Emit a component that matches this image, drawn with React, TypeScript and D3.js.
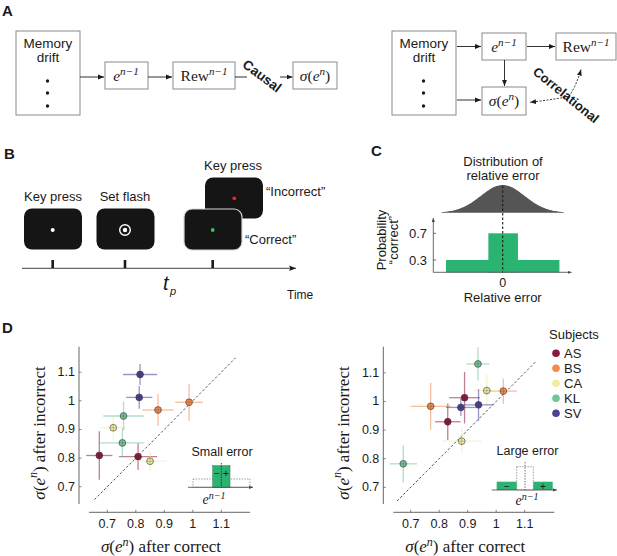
import React from 'react';
import * as d3 from 'd3';

// ---- data ----
const subjects = ['AS', 'BS', 'CA', 'KL', 'SV'];
const subjectColors = ['#8c1840', '#f28b4c', '#f1eca0', '#72c597', '#4b3f98'];

const axisTicks = [0.7, 0.8, 0.9, 1, 1.1];
const axisTickLabels = ['0.7', '0.8', '0.9', '1', '1.1'];

// small error (left)
const smallSubject = ['AS', 'AS', 'BS', 'BS', 'CA', 'CA', 'KL', 'KL', 'SV', 'SV'];
const smallCorrect = [0.672, 0.808, 0.878, 0.987, 0.721, 0.85, 0.757, 0.753, 0.815, 0.812];
const smallIncorrect = [0.809, 0.805, 0.968, 0.995, 0.906, 0.789, 0.947, 0.853, 1.092, 1.012];
const smallCorrectErr = [0.046, 0.067, 0.055, 0.049, 0.044, 0.058, 0.071, 0.077, 0.06, 0.046];
const smallIncorrectErr = [0.085, 0.047, 0.056, 0.065, 0.04, 0.035, 0.05, 0.05, 0.037, 0.04];

// large error (right)
const largeSubject = ['AS', 'AS', 'BS', 'BS', 'CA', 'CA', 'KL', 'KL', 'SV', 'SV'];
const largeCorrect = [0.889, 0.83, 0.77, 1.025, 0.967, 0.879, 0.936, 0.674, 0.938, 0.876];
const largeIncorrect = [1.013, 0.929, 0.983, 1.036, 1.038, 0.861, 1.131, 0.782, 0.988, 0.979];
const largeCorrectErr = [0.054, 0.045, 0.07, 0.047, 0.047, 0.07, 0.04, 0.048, 0.052, 0.052];
const largeIncorrectErr = [0.09, 0.064, 0.082, 0.044, 0.055, 0.044, 0.058, 0.064, 0.055, 0.03];

// panel C: reward probability vs relative error
const cBarStart = [-0.93, -0.235];
const cBarEnd = [0.93, 0.25];
const cBarValue = [0.3, 0.7];
const cTicks = [0.3, 0.7];

const SANS = 'Liberation Sans, Arial, sans-serif';
const SERIF = 'Liberation Serif, Times New Roman, serif';
const GREEN = '#2bb371';
const INK = '#1a1a1a';

const colorOf = (s: string) => subjectColors[subjects.indexOf(s)];

const Arrow = ({ x1, y1, x2, y2 }: any) => (
  <line x1={x1} y1={y1} x2={x2} y2={y2} stroke={INK} strokeWidth={0.9} markerEnd="url(#arr)" />
);

const Box = ({ x, y, w, h }: any) => (
  <rect x={x} y={y} width={w} height={h} fill="white" stroke="#8a8a8a" strokeWidth={1} />
);

const MathE = ({ x, y, sup, size = 15.5 }: any) => (
  <text x={x} y={y} fontFamily={SERIF} fontSize={size} fill={INK} textAnchor="middle">
    <tspan fontStyle="italic">e</tspan>
    <tspan dy={-size * 0.38} fontSize={size * 0.72} fontStyle="italic">{sup}</tspan>
  </text>
);

const Sigma = ({ x, y }: any) => (
  <text x={x} y={y} fontFamily={SERIF} fontSize={15.5} fill={INK} textAnchor="middle">
    <tspan fontStyle="italic">σ</tspan>(<tspan fontStyle="italic">e</tspan>
    <tspan dy={-6} fontSize={11} fontStyle="italic">n</tspan>
    <tspan dy={6}>)</tspan>
  </text>
);

const Rew = ({ x, y }: any) => (
  <text x={x} y={y} fontFamily={SERIF} fontSize={15.5} fill={INK} textAnchor="middle">
    Rew<tspan dy={-6} fontSize={11} fontStyle="italic">n−1</tspan>
  </text>
);

const MemoryBox = ({ x, y }: any) => (
  <g>
    <Box x={x} y={y} w={64} h={84} />
    <text x={x + 32} y={y + 17} fontFamily={SANS} fontSize={13.5} fill={INK} textAnchor="middle">Memory</text>
    <text x={x + 32} y={y + 31} fontFamily={SANS} fontSize={13.5} fill={INK} textAnchor="middle">drift</text>
    {[50, 62, 75].map(d => <circle key={d} cx={x + 31.5} cy={y + d} r={1.7} fill={INK} />)}
  </g>
);

const PanelA = () => (
  <g>
    <text x={2} y={16} fontFamily={SANS} fontWeight="bold" fontSize={15} fill={INK}>A</text>
    <MemoryBox x={16} y={31} />
    <Arrow x1={80} y1={77} x2={104} y2={77} />
    <Box x={105} y={62} w={43} h={27} />
    <MathE x={126} y={81} sup="n−1" />
    <Arrow x1={148} y1={77} x2={172} y2={77} />
    <Box x={173} y={62} w={62} h={27} />
    <Rew x={204} y={81} />
    <line x1={235} y1={77} x2={247} y2={77} stroke={INK} strokeWidth={0.9} />
    <Arrow x1={280} y1={77} x2={292.5} y2={77} />
    <text x={262} y={76} fontFamily={SANS} fontWeight="bold" fontSize={13.5} fill={INK}
      textAnchor="middle" dominantBaseline="central" transform="rotate(37,262,76)">Causal</text>
    <Box x={293} y={62} w={44} h={27} />
    <Sigma x={315} y={81} />

    <MemoryBox x={392} y={31} />
    <Box x={482} y={33} w={44} h={27} />
    <MathE x={504} y={52} sup="n−1" />
    <Box x={556} y={33} w={60} h={27} />
    <Rew x={586} y={52} />
    <Box x={482} y={87} w={44} h={28} />
    <Sigma x={504} y={106} />
    <Arrow x1={457} y1={46.5} x2={481} y2={46.5} />
    <Arrow x1={457} y1={100} x2={481} y2={100} />
    <Arrow x1={527} y1={46.5} x2={555} y2={46.5} />
    <Arrow x1={504.5} y1={60} x2={504.5} y2={86} />
    <path d="M569,96.5 Q550,100 530,102.3" fill="none" stroke={INK} strokeWidth={0.9}
      strokeDasharray="2,1.5" markerEnd="url(#arr)" />
    <path d="M569,96.5 Q577,84 581,69.5" fill="none" stroke={INK} strokeWidth={0.9}
      strokeDasharray="2,1.5" markerEnd="url(#arr)" />
    <text x={566} y={95} fontFamily={SANS} fontWeight="bold" fontSize={13} fill={INK}
      textAnchor="middle" dominantBaseline="central" transform="rotate(39,566,95)">Correlational</text>
  </g>
);

const Screen = ({ x, y, border = false, children }: any) => (
  <g>
    <rect x={x} y={y} width={58} height={41} rx={8} fill="#151515"
      stroke={border ? '#d8d8d8' : 'none'} strokeWidth={1.2} />
    {children}
  </g>
);

const PanelB = () => (
  <g>
    <text x={4} y={159} fontFamily={SANS} fontWeight="bold" fontSize={15} fill={INK}>B</text>
    <text x={53} y={201} fontFamily={SANS} fontSize={13} fill={INK} textAnchor="middle">Key press</text>
    <text x={125} y={201} fontFamily={SANS} fontSize={13} fill={INK} textAnchor="middle">Set flash</text>
    <text x={233} y={170} fontFamily={SANS} fontSize={13} fill={INK} textAnchor="middle">Key press</text>
    <Screen x={24} y={208.5}><circle cx={52.7} cy={230} r={2} fill="white" /></Screen>
    <Screen x={96.5} y={208.5}>
      <circle cx={125} cy={230} r={5.3} fill="none" stroke="white" strokeWidth={1.4} />
      <circle cx={125} cy={230} r={2.2} fill="white" />
    </Screen>
    <Screen x={205} y={177.5}><circle cx={234.3} cy={198.3} r={1.9} fill="#e8262d" /></Screen>
    <Screen x={184} y={209} border><circle cx={212.7} cy={230} r={1.9} fill="#3ec14f" /></Screen>
    <text x={266} y={196} fontFamily={SANS} fontSize={13} fill={INK}>“Incorrect”</text>
    <text x={245} y={244} fontFamily={SANS} fontSize={13} fill={INK}>“Correct”</text>
    <line x1={22} y1={268.3} x2={296} y2={268.3} stroke="#444" strokeWidth={1} markerEnd="url(#arrBig)" />
    {[52.7, 125, 212.7].map(x => (
      <line key={x} x1={x} y1={260} x2={x} y2={268} stroke={INK} strokeWidth={2.6} />
    ))}
    <text x={163} y={290} fontFamily={SANS} fontStyle="italic" fontSize={20} fill={INK}>t</text>
    <text x={170} y={295} fontFamily={SANS} fontStyle="italic" fontSize={11} fill={INK}>p</text>
    <text x={287} y={299} fontFamily={SANS} fontSize={12} fill={INK}>Time</text>
  </g>
);

const PanelC = () => {
  const x = d3.scaleLinear().domain([-1, 1]).range([441.7, 563.7]);
  const y = d3.scaleLinear().domain([0.3, 0.7]).range([260, 233.3]);
  const yBase = 272.3;
  const gx = d3.range(-1, 1.0001, 0.02);
  const gauss = (v: number) => Math.exp(-(v * v) / (2 * 0.36 * 0.36));
  const gy = d3.scaleLinear().domain([0, 1]).range([212.7, 185]);
  const area = d3.area<number>().x(v => x(v)).y0(212.7).y1(v => gy(gauss(v))).curve(d3.curveBasis);
  return (
    <g>
      <text x={371} y={156} fontFamily={SANS} fontWeight="bold" fontSize={15} fill={INK}>C</text>
      <text x={503} y={166} fontFamily={SANS} fontSize={13} fill={INK} textAnchor="middle">Distribution of</text>
      <text x={503} y={180} fontFamily={SANS} fontSize={13} fill={INK} textAnchor="middle">relative error</text>
      <path d={area(gx) || ''} fill="#555555" />
      {cBarValue.map((v, i) => (
        <rect key={i} x={x(cBarStart[i])} y={y(v)} width={x(cBarEnd[i]) - x(cBarStart[i])}
          height={yBase - y(v)} fill={GREEN} />
      ))}
      <line x1={x(0)} y1={186} x2={x(0)} y2={yBase} stroke={INK} strokeWidth={1.1} strokeDasharray="2.5,2" />
      <line x1={433.3} y1={yBase} x2={433.3} y2={218} stroke="#444" strokeWidth={0.8} markerEnd="url(#arrSm)" />
      <line x1={433.3} y1={yBase} x2={571.5} y2={yBase} stroke="#444" strokeWidth={0.8} markerEnd="url(#arrSm)" />
      {cTicks.map(t => (
        <g key={t}>
          <line x1={433.3} x2={436} y1={y(t)} y2={y(t)} stroke="#444" strokeWidth={0.8} />
          <text x={427} y={y(t)} fontFamily={SANS} fontSize={13} fill={INK} textAnchor="end"
            dominantBaseline="central">{t}</text>
        </g>
      ))}
      <text x={x(0)} y={287} fontFamily={SANS} fontSize={12.5} fill={INK} textAnchor="middle">0</text>
      <text x={x(0)} y={302} fontFamily={SANS} fontSize={13} fill={INK} textAnchor="middle">Relative error</text>
      <text transform="translate(386,240) rotate(-90)" fontFamily={SANS} fontSize={13} fill={INK} textAnchor="middle">Probability</text>
      <text transform="translate(398,240) rotate(-90)" fontFamily={SANS} fontSize={13} fill={INK} textAnchor="middle">“correct”</text>
    </g>
  );
};

const Scatter = ({ ox, x0, y0, subj, xs, ys, xe, ye, diag }: any) => {
  // ox: x of y-axis line; x0: pixel of 0.7 on x; y0: pixel of 0.7 on y
  const x = d3.scaleLinear().domain([0.7, 1.1]).range([x0, x0 + 114]);
  const y = d3.scaleLinear().domain([0.7, 1.1]).range([y0, y0 - 114.5]);
  const xAxisY = 512.3;
  return (
    <g>
      <line x1={ox} x2={ox} y1={346.7} y2={504} stroke="#666" strokeWidth={1} />
      <line x1={ox + 10} x2={ox + 171} y1={xAxisY} y2={xAxisY} stroke="#666" strokeWidth={1} />
      {axisTicks.map((t, i) => (
        <g key={t}>
          <line x1={ox} x2={ox + 2.5} y1={y(t)} y2={y(t)} stroke="#666" strokeWidth={0.8} />
          <text x={ox - 4} y={y(t)} fontFamily={SANS} fontSize={12.5} fill={INK} textAnchor="end"
            dominantBaseline="central">{axisTickLabels[i]}</text>
          <line x1={x(t)} x2={x(t)} y1={xAxisY} y2={xAxisY - 2.5} stroke="#666" strokeWidth={0.8} />
          <text x={x(t)} y={xAxisY + 16} fontFamily={SANS} fontSize={12.5} fill={INK} textAnchor="middle"
            >{axisTickLabels[i]}</text>
        </g>
      ))}
      <line x1={x(diag[0])} y1={y(diag[0])} x2={x(diag[1])} y2={y(diag[1])} stroke="#444"
        strokeWidth={0.9} strokeDasharray="2.5,2" />
      {xs.map((v: number, i: number) => {
        const c = colorOf(subj[i]);
        return (
          <g key={'e' + i} stroke={c} strokeWidth={1.3} opacity={0.55}>
            <line x1={x(v - xe[i])} x2={x(v + xe[i])} y1={y(ys[i])} y2={y(ys[i])} />
            <line x1={x(v)} x2={x(v)} y1={y(ys[i] - ye[i])} y2={y(ys[i] + ye[i])} />
          </g>
        );
      })}
      {xs.map((v: number, i: number) => {
        const cx = x(v), cy = y(ys[i]);
        return (
          <g key={'p' + i}>
            <circle cx={cx} cy={cy} r={3.4} fill={colorOf(subj[i])} stroke="#3a3a3a" strokeWidth={0.6} />
            <g stroke="#333" strokeWidth={0.6} opacity={0.45}>
              <line x1={cx - 3.4} x2={cx + 3.4} y1={cy} y2={cy} />
              <line x1={cx} x2={cx} y1={cy - 3.4} y2={cy + 3.4} />
            </g>
          </g>
        );
      })}
      <text transform={`translate(${ox - 40},433) rotate(-90)`} fontFamily={SERIF} fontSize={17}
        fill={INK} textAnchor="middle" dominantBaseline="central">
        <tspan fontStyle="italic">σ</tspan>(<tspan fontStyle="italic">e</tspan>
        <tspan dy={-6} fontSize={12} fontStyle="italic">n</tspan>
        <tspan dy={6}>) after incorrect</tspan>
      </text>
      <text x={ox + 82} y={552} fontFamily={SERIF} fontSize={17} fill={INK} textAnchor="middle">
        <tspan fontStyle="italic">σ</tspan>(<tspan fontStyle="italic">e</tspan>
        <tspan dy={-6} fontSize={12} fontStyle="italic">n</tspan>
        <tspan dy={6}>) after correct</tspan>
      </text>
    </g>
  );
};

const InsetSmall = () => (
  <g>
    <text x={222} y={456} fontFamily={SANS} fontSize={12.5} fill={INK} textAnchor="middle">Small error</text>
    <rect x={193} y={479} width={57} height={8.3} fill="none" stroke="#777" strokeWidth={0.7} strokeDasharray="1.5,1.2" />
    <rect x={212.7} y={465.7} width={17.3} height={21.6} fill={GREEN} stroke="#1f7a4c" strokeWidth={0.5} />
    <line x1={221.3} x2={221.3} y1={463} y2={488} stroke={INK} strokeWidth={0.8} strokeDasharray="1.5,1.2" />
    <text x={217} y={473} fontFamily={SANS} fontSize={10} fill={INK} textAnchor="middle" dominantBaseline="central">−</text>
    <text x={226} y={473} fontFamily={SANS} fontSize={10} fill={INK} textAnchor="middle" dominantBaseline="central">+</text>
    <line x1={188} x2={253} y1={487.3} y2={487.3} stroke="#444" strokeWidth={0.8} markerEnd="url(#arrSm)" />
    <MathE x={214} y={504} sup="n−1" size={14} />
  </g>
);

const InsetLarge = () => (
  <g>
    <text x={527.5} y={455} fontFamily={SANS} fontSize={12.5} fill={INK} textAnchor="middle">Large error</text>
    <rect x={516.7} y={466.7} width={16.6} height={23.3} fill="none" stroke="#777" strokeWidth={0.7} strokeDasharray="1.5,1.2" />
    <rect x={496.7} y={481.7} width={20} height={8.3} fill={GREEN} />
    <rect x={533.3} y={481.7} width={19.4} height={8.3} fill={GREEN} />
    <line x1={525} x2={525} y1={462} y2={490} stroke="#555" strokeWidth={0.8} strokeDasharray="1.5,1.2" />
    <text x={507} y={486} fontFamily={SANS} fontSize={10} fill={INK} textAnchor="middle" dominantBaseline="central">−</text>
    <text x={543} y={486} fontFamily={SANS} fontSize={10} fill={INK} textAnchor="middle" dominantBaseline="central">+</text>
    <line x1={491.7} x2={557} y1={490} y2={490} stroke="#444" strokeWidth={0.8} markerEnd="url(#arrSm)" />
    <MathE x={527} y={505} sup="n−1" size={14} />
  </g>
);

const Legend = () => (
  <g>
    <text x={549} y={339} fontFamily={SANS} fontSize={13} fill={INK}>Subjects</text>
    {subjects.map((s, i) => (
      <g key={s}>
        <circle cx={556} cy={353.3 + i * 15} r={3.8} fill={subjectColors[i]} />
        <text x={564} y={353.3 + i * 15} fontFamily={SANS} fontSize={13} fill={INK}
          dominantBaseline="central">{s}</text>
      </g>
    ))}
  </g>
);

const App = () => (
  <svg width={617} height={556} style={{ position: 'absolute', left: 0, top: 0, background: 'white' }}>
    <defs>
      <marker id="arr" viewBox="0 0 10 10" refX={10} refY={5} markerWidth={6} markerHeight={6}
        markerUnits="userSpaceOnUse" orient="auto">
        <path d="M0,1 L10,5 L0,9 z" fill={INK} />
      </marker>
      <marker id="arrBig" viewBox="0 0 10 10" refX={10} refY={5} markerWidth={9} markerHeight={7}
        markerUnits="userSpaceOnUse" orient="auto">
        <path d="M0,1 L10,5 L0,9 L2,5 z" fill={INK} />
      </marker>
      <marker id="arrSm" viewBox="0 0 10 10" refX={10} refY={5} markerWidth={4} markerHeight={4}
        markerUnits="userSpaceOnUse" orient="auto">
        <path d="M0,1 L10,5 L0,9 z" fill="#444" />
      </marker>
    </defs>
    <PanelA />
    <PanelB />
    <PanelC />
    <text x={2} y={333} fontFamily={SANS} fontWeight="bold" fontSize={15} fill={INK}>D</text>
    <Scatter ox={79} x0={107.3} y0={486.7} subj={smallSubject} xs={smallCorrect} ys={smallIncorrect}
      xe={smallCorrectErr} ye={smallIncorrectErr} diag={[0.655, 1.15]} />
    <InsetSmall />
    <Scatter ox={383.3} x0={410.7} y0={487.3} subj={largeSubject} xs={largeCorrect} ys={largeIncorrect}
      xe={largeCorrectErr} ye={largeIncorrectErr} diag={[0.652, 1.14]} />
    <InsetLarge />
    <Legend />
  </svg>
);

export default App;
